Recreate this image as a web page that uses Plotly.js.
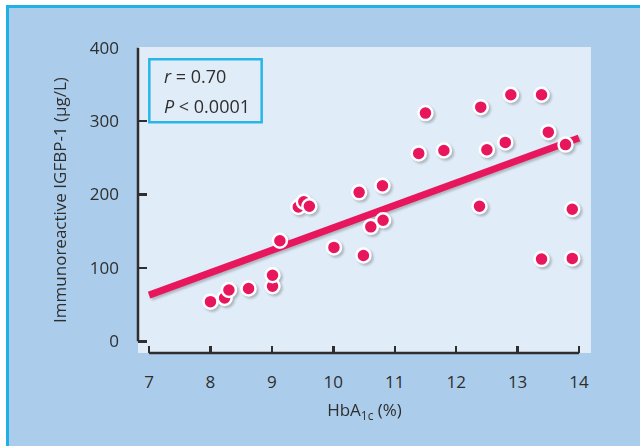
<!DOCTYPE html>
<html>
<head>
<meta charset="utf-8">
<script src="https://cdn.plot.ly/plotly-3.0.1.min.js"></script>
<style>
  html, body { margin: 0; padding: 0; background: #ffffff; }
  #frame { position: absolute; left: 6px; top: 5px; width: 640px; height: 446px;
           background: #abcdeb; border-left: 3px solid #1fb1e6; border-top: 3px solid #1fb1e6; border-bottom: 3px solid #1fb1e6; box-sizing: border-box; }
  #chart { position: absolute; left: 0; top: 0; width: 640px; height: 446px; }
  .scatterlayer { filter: drop-shadow(2px 2px 1px rgba(0,0,0,0.22)); }
</style>
</head>
<body>
<div id="frame"></div>
<div id="chart"></div>
<script>
// HbA1c (%) values
const hba1c = [8.0, 8.23, 8.30, 8.62, 9.01, 9.01, 9.13, 9.43, 9.52, 9.61,
               10.01, 10.42, 10.49, 10.61, 10.80, 10.81, 11.39, 11.50, 11.80, 12.38,
               12.40, 12.50, 12.80, 12.89, 13.39, 13.39, 13.50, 13.78, 13.89, 13.89];
// Immunoreactive IGFBP-1 (µg/L)
const igfbp1 = [54, 59, 70, 72, 75, 90, 137, 183, 190, 184,
                128, 203, 117, 156, 212, 165, 256, 311, 260, 184,
                319, 261, 271, 336, 336, 112, 285, 268, 180, 113];
// regression line endpoints
const fitX = [7, 14];
const fitY = [63, 277];
const xTicks = [7, 8, 9, 10, 11, 12, 13, 14];
const yTicks = [0, 100, 200, 300, 400];

const red = '#e8175d';
const ink = '#2e2e2e';
const font = 'Open Sans, Noto Sans, Liberation Sans, sans-serif';

const traces = [
  { x: fitX, y: fitY, mode: 'lines', type: 'scatter',
    line: { color: red, width: 7 }, hoverinfo: 'skip', showlegend: false },
  { x: hba1c, y: igfbp1, mode: 'markers', type: 'scatter',
    marker: { color: red, size: 14, line: { color: '#ffffff', width: 2.5 } },
    showlegend: false }
];

const layout = {
  width: 640, height: 446,
  margin: { l: 138, r: 49, t: 47, b: 93 },
  paper_bgcolor: 'rgba(0,0,0,0)',
  plot_bgcolor: '#e0ecf8',
  font: { family: font, size: 17, color: ink },
  showlegend: false,
  xaxis: {
    range: [6.82, 14.195], tickvals: xTicks, ticktext: xTicks.map(String),
    showgrid: false, zeroline: false, showline: false,
    ticks: 'inside', ticklen: 7, tickwidth: 2.5, tickcolor: ink,
    ticklabelstandoff: 17,
    tickfont: { size: 17, color: ink },
    title: { text: 'HbA<sub>1c</sub> (%)', font: { size: 17, color: ink }, standoff: 12 }
  },
  yaxis: {
    range: [-15.9, 401], tickvals: yTicks, ticktext: yTicks.map(String),
    showgrid: false, zeroline: false, showline: false,
    ticks: 'inside', ticklen: 9, tickwidth: 2.5, tickcolor: ink,
    ticklabelstandoff: 18,
    tickfont: { size: 17, color: ink },
    title: { text: 'Immunoreactive IGFBP-1 (µg/L)', font: { size: 17, color: ink }, standoff: 18 }
  },
  shapes: [
    { type: 'line', xref: 'paper', yref: 'y', x0: 0, x1: 0, y0: 0, y1: 400,
      line: { color: ink, width: 2.5 } },
    { type: 'line', xref: 'x', yref: 'paper', x0: 7, x1: 14, y0: 0, y1: 0,
      line: { color: ink, width: 2.5 } },
    { type: 'rect', xref: 'paper', yref: 'paper', x0: 0.025, x1: 0.273, y0: 0.754, y1: 0.960,
      line: { color: '#29b5e8', width: 2.5 }, fillcolor: 'rgba(0,0,0,0)' }
  ],
  annotations: [
    { xref: 'paper', yref: 'paper', x: 0.052, y: 0.905, xanchor: 'left', yanchor: 'middle',
      showarrow: false, text: '<i>r</i> = 0.70', font: { size: 18, color: ink } },
    { xref: 'paper', yref: 'paper', x: 0.052, y: 0.807, xanchor: 'left', yanchor: 'middle',
      showarrow: false, text: '<i>P</i> &lt; 0.0001', font: { size: 18, color: ink } }
  ]
};

Plotly.newPlot('chart', traces, layout, { displayModeBar: false, staticPlot: true });
</script>
</body>
</html>
